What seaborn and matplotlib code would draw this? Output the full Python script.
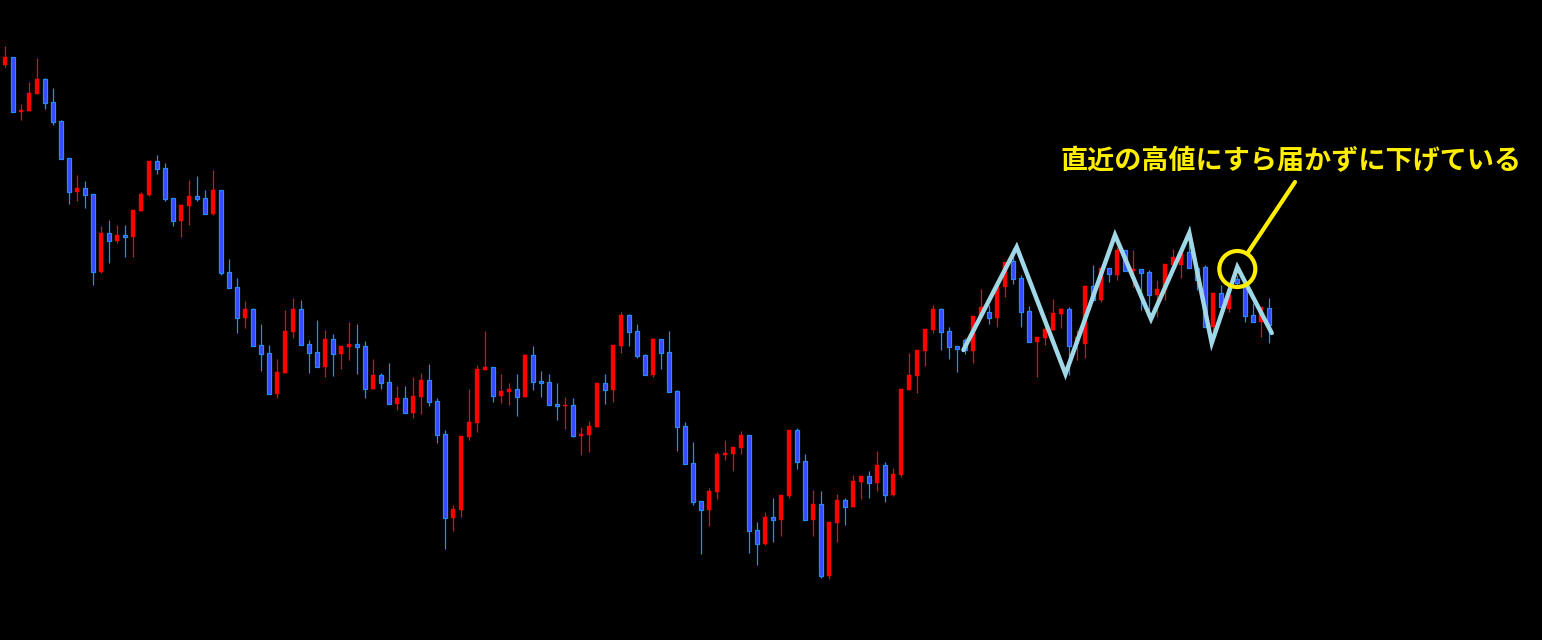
import numpy as np
import pandas as pd
import matplotlib
matplotlib.use("Agg")
import matplotlib.pyplot as plt
from matplotlib.patches import Ellipse
import seaborn as sns

# ---- data (price levels) ----
opens = [575, 583, 528, 529, 546, 561, 538, 519, 482, 448, 452, 446, 368, 407, 399, 405, 403, 429, 445, 479,
         472, 442, 419, 434, 444, 442, 426, 450, 368, 353, 322, 331, 295, 287, 246, 267, 308, 331, 296, 288,
         273, 301, 286, 293, 296, 294, 251, 265, 258, 236, 242, 227, 243, 260, 239, 206, 122, 130, 203, 217,
         270, 273, 244, 248, 251, 243, 285, 259, 258, 236, 234, 235, 204, 205, 213, 257, 250, 294, 325, 309,
         285, 265, 301, 288, 249, 214, 177, 139, 130, 148, 185, 186, 192, 205, 110, 96, 123, 120, 144, 210,
         179, 120, 136, 64, 117, 140, 133, 158, 164, 157, 175, 145, 165, 250, 264, 289, 310, 331, 309, 294,
         300, 289, 323, 328, 322, 353, 379, 362, 329, 298, 302, 310, 326, 331, 297, 296, 354, 340, 372, 365,
         390, 369, 371, 368, 345, 350, 375, 375, 388, 372, 373, 313, 347, 331, 361, 354, 325, 318, 332]
highs = [594, 583, 536, 558, 582, 562, 552, 520, 482, 465, 459, 446, 414, 420, 415, 415, 430, 448, 479, 485,
         477, 442, 435, 460, 464, 450, 470, 450, 381, 362, 339, 332, 316, 295, 281, 330, 342, 340, 300, 320,
         310, 306, 294, 318, 316, 299, 281, 267, 277, 254, 254, 263, 267, 276, 242, 210, 135, 204, 251, 275,
         309, 273, 266, 257, 266, 286, 294, 269, 266, 257, 243, 242, 213, 219, 257, 266, 295, 328, 326, 316,
         286, 302, 301, 309, 250, 218, 198, 139, 152, 188, 200, 193, 209, 205, 118, 128, 142, 145, 210, 212,
         186, 150, 149, 118, 146, 142, 165, 164, 169, 189, 178, 172, 251, 287, 290, 311, 335, 332, 313, 294,
         302, 324, 351, 335, 355, 378, 392, 365, 334, 303, 313, 341, 332, 333, 310, 355, 375, 374, 372, 393,
         390, 390, 371, 370, 360, 376, 391, 390, 414, 375, 375, 347, 355, 350, 365, 354, 337, 333, 342]
lows = [573, 528, 520, 529, 546, 531, 515, 481, 436, 439, 432, 355, 367, 377, 397, 383, 383, 429, 444, 466,
        439, 414, 403, 415, 439, 426, 425, 365, 352, 307, 312, 294, 269, 246, 242, 267, 302, 295, 267, 273,
        263, 264, 271, 280, 266, 242, 251, 251, 236, 230, 227, 222, 226, 234, 197, 91, 109, 123, 200, 208,
        270, 238, 237, 235, 224, 243, 250, 243, 235, 220, 211, 203, 185, 188, 213, 236, 238, 287, 294, 282,
        265, 263, 271, 248, 189, 176, 135, 86, 114, 141, 180, 169, 186, 87, 75, 95, 98, 104, 142, 171,
        120, 104, 62, 61, 98, 115, 133, 141, 142, 149, 138, 144, 163, 250, 247, 274, 307, 290, 281, 268,
        286, 277, 323, 316, 313, 343, 356, 313, 298, 263, 295, 310, 312, 265, 280, 282, 340, 338, 358, 360,
        369, 353, 330, 330, 323, 340, 375, 362, 372, 350, 313, 308, 333, 328, 354, 318, 318, 303, 297]
closes = [583, 528, 530, 547, 561, 537, 518, 481, 448, 452, 445, 368, 407, 399, 405, 403, 430, 446, 479, 471,
          441, 419, 435, 444, 441, 426, 450, 367, 352, 322, 331, 294, 286, 246, 268, 309, 331, 295, 287, 273,
          301, 286, 294, 296, 293, 251, 265, 257, 236, 242, 227, 244, 260, 238, 205, 122, 131, 204, 218, 271,
          273, 244, 249, 251, 243, 285, 258, 257, 235, 234, 235, 204, 206, 214, 257, 250, 295, 325, 308, 284,
          265, 301, 287, 248, 213, 176, 138, 130, 149, 186, 187, 193, 205, 109, 96, 123, 120, 145, 210, 178,
          120, 136, 64, 118, 140, 133, 159, 164, 157, 175, 145, 166, 251, 265, 290, 311, 331, 308, 293, 291,
          290, 324, 333, 322, 355, 378, 361, 328, 298, 303, 311, 327, 331, 294, 303, 354, 340, 372, 366, 390,
          369, 371, 367, 345, 351, 376, 383, 388, 372, 360, 313, 347, 333, 345, 357, 324, 318, 333, 315]

# zigzag swing points (candle position, price)
zigzag_x = [119.8, 126.46, 132.56, 138.75, 143.25, 148.04, 150.84, 154.04, 158.34]
zigzag_y = [290, 393, 266, 405, 321, 407, 297, 373, 307]

annotation_text = "直近の高値にすら届かずに下げている"

# ---- styling ----
RED = "#ff0000"
BLUE_FILL = "#3c46ff"
BLUE_EDGE = "#1e8fff"
ZIG = "#a0d8e8"
YEL = "#ffee00"

sns.set_theme(style="dark")
plt.rcParams["font.family"] = ["Noto Sans CJK JP", "DejaVu Sans"]

W, H = 1542, 640
fig = plt.figure(figsize=(W / 100, H / 100), dpi=100, facecolor="black")
ax = fig.add_axes([0, 0, 1, 1])
ax.set_facecolor("black")

df = pd.DataFrame({"open": opens, "high": highs, "low": lows, "close": closes})
df["idx"] = np.arange(len(df))
df["up"] = df["close"] >= df["open"]

up = df[df["up"]]
dn = df[~df["up"]]

# wicks
ax.vlines(up["idx"], up["low"], up["high"], color=RED, lw=0.9, zorder=2)
ax.vlines(dn["idx"], dn["low"], dn["high"], color=BLUE_EDGE, lw=0.9, zorder=2)

# bodies
bw = 0.6
ax.bar(up["idx"], np.maximum(up["close"] - up["open"], 1.2), bottom=up["open"], width=bw,
       color=RED, edgecolor=RED, linewidth=0.3, zorder=3)
ax.bar(dn["idx"], np.maximum(dn["open"] - dn["close"], 1.2), bottom=dn["close"], width=bw,
       color=BLUE_FILL, edgecolor=BLUE_EDGE, linewidth=0.9, zorder=3)

# zigzag
zz = pd.DataFrame({"x": zigzag_x, "y": zigzag_y})
sns.lineplot(data=zz, x="x", y="y", ax=ax, color=ZIG, lw=3.2, sort=False,
             solid_joinstyle="miter", solid_capstyle="round", zorder=5)

# yellow circle around the last lower high + pointer line + text
cx, cy = zigzag_x[7], zigzag_y[7] - 2
ax.add_patch(Ellipse((cx, cy), width=36 / 8, height=36, fill=False, edgecolor=YEL, lw=3.0, zorder=6))
ax.plot([155.41, 161.25], [388, 458], color=YEL, lw=3.0, solid_capstyle="round", zorder=6)
ax.text(160.8, 479, annotation_text, color=YEL, fontsize=19.5, fontweight="bold",
        ha="center", va="center", zorder=7)

ax.set_xlim(-0.625, -0.625 + W / 8)
ax.set_ylim(0, H)
ax.set_axis_off()
ax.grid(False)

fig.savefig("out.png", dpi=100, facecolor="black")
